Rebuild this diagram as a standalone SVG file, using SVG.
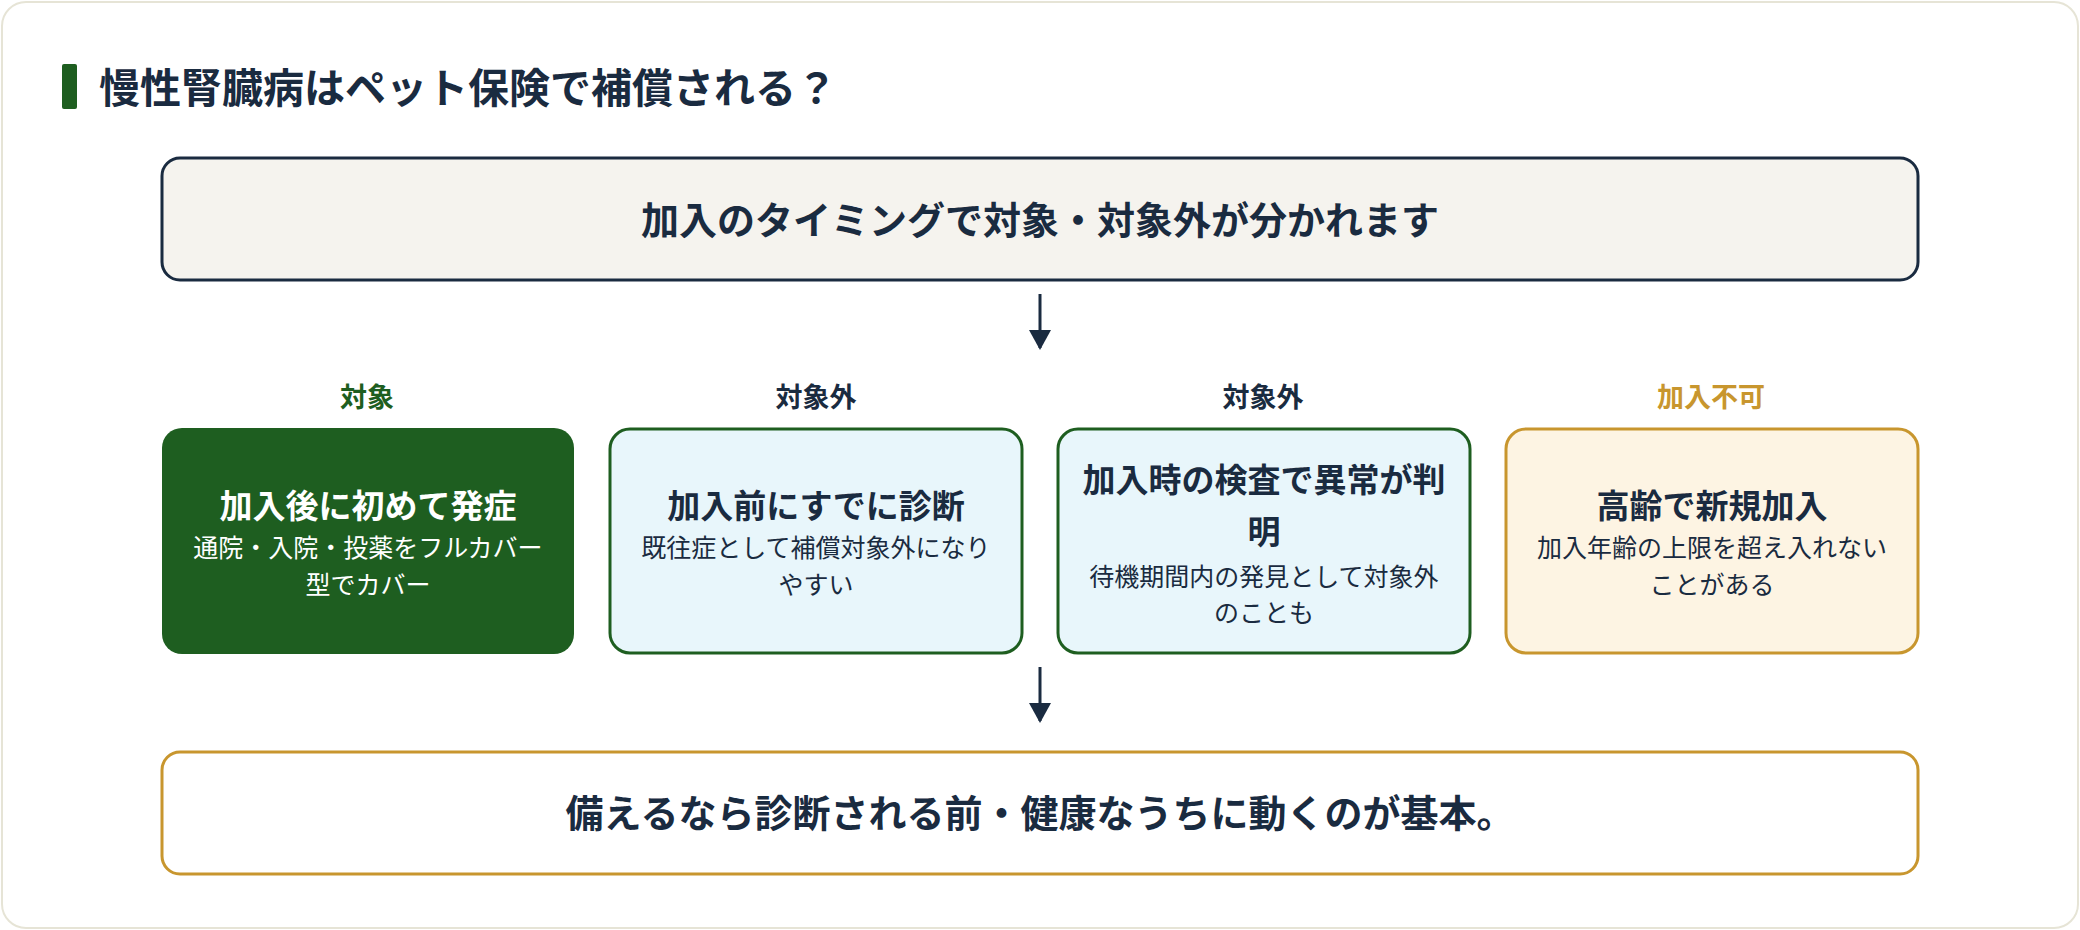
<svg xmlns="http://www.w3.org/2000/svg" width="2080" height="930" viewBox="0 0 2080 930">
<style>
text{font-family:"Noto Sans CJK JP","Noto Sans",sans-serif;text-anchor:middle}
.t{font-weight:700;fill:#1a2b40}
.lab{font-size:27px;font-weight:700}
.bt{font-size:33px;font-weight:700}
.bs{font-size:25px}
.ar{stroke:#1a2b40;stroke-width:3;fill:none}
</style>
<rect x="2" y="2" width="2076" height="926" rx="24" fill="#fff" stroke="#e6e4d6" stroke-width="2"/>
<g id="title"><rect x="62" y="64" width="15" height="45" rx="2" fill="#1e5e20"/>
<text x="99" y="103" class="t" style="text-anchor:start;font-size:41px">慢性腎臓病はペット保険で補償される？</text></g>
<g id="top"><rect x="162" y="158" width="1756" height="122" rx="18" fill="#f5f3ee" stroke="#1a2b40" stroke-width="3"/>
<text x="1040" y="234" class="t" style="font-size:38px">加入のタイミングで対象・対象外が分かれます</text></g>
<g id="connectors">
<path d="M1040 294V348" class="ar"/><path d="M1029 330L1040 350L1051 330z" fill="#1a2b40"/>
<path d="M1040 667V721" class="ar"/><path d="M1029 703L1040 723L1051 703z" fill="#1a2b40"/>
</g>
<g id="n1"><text x="367" y="407" class="lab" fill="#1e5e20">対象</text>
<rect x="162" y="428" width="412" height="226" rx="20" fill="#1e5e20"/>
<text x="368" y="518" class="bt" fill="#fff">加入後に初めて発症</text>
<text x="368" y="557" class="bs" fill="#fff">通院・入院・投薬をフルカバー</text>
<text x="368" y="594" class="bs" fill="#fff">型でカバー</text></g>
<g id="n2"><text x="816" y="407" class="lab" fill="#1a2b40">対象外</text>
<rect x="610" y="429" width="412" height="224" rx="20" fill="#e8f6fb" stroke="#1e5e20" stroke-width="3"/>
<text x="816" y="518" class="bt" fill="#1a2b40">加入前にすでに診断</text>
<text x="816" y="557" class="bs" fill="#1a2b40">既往症として補償対象外になり</text>
<text x="816" y="594" class="bs" fill="#1a2b40">やすい</text></g>
<g id="n3"><text x="1263" y="407" class="lab" fill="#1a2b40">対象外</text>
<rect x="1058" y="429" width="412" height="224" rx="20" fill="#e8f6fb" stroke="#1e5e20" stroke-width="3"/>
<text x="1264" y="492" class="bt" fill="#1a2b40">加入時の検査で異常が判</text>
<text x="1264" y="544" class="bt" fill="#1a2b40">明</text>
<text x="1264" y="586" class="bs" fill="#1a2b40">待機期間内の発見として対象外</text>
<text x="1264" y="622" class="bs" fill="#1a2b40">のことも</text></g>
<g id="n4"><text x="1711" y="407" class="lab" fill="#c8962e">加入不可</text>
<rect x="1506" y="429" width="412" height="224" rx="20" fill="#fdf4e3" stroke="#c8962e" stroke-width="3"/>
<text x="1712" y="518" class="bt" fill="#1a2b40">高齢で新規加入</text>
<text x="1712" y="557" class="bs" fill="#1a2b40">加入年齢の上限を超え入れない</text>
<text x="1712" y="594" class="bs" fill="#1a2b40">ことがある</text></g>
<g id="bottom"><rect x="162" y="752" width="1756" height="122" rx="18" fill="#fff" stroke="#c8962e" stroke-width="3"/>
<text x="1040" y="827" class="t" style="font-size:38px">備えるなら診断される前・健康なうちに動くのが基本。</text></g>
</svg>
